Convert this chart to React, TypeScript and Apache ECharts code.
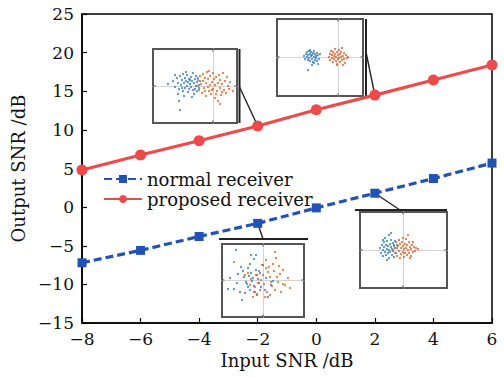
import React, { useEffect, useRef } from "react";
import * as echarts from "echarts";

const xValues = [-8, -6, -4, -2, 0, 2, 4, 6];
const normalReceiver = [-7.2, -5.6, -3.8, -2.1, -0.1, 1.8, 3.7, 5.7];
const proposedReceiver = [4.8, 6.75, 8.6, 10.5, 12.6, 14.5, 16.45, 18.4];
const xTicks = { min: -8, max: 6, interval: 2 };
const yTicks = { min: -15, max: 25, interval: 5 };
const legendNames = ["normal receiver", "proposed receiver"];

// constellation insets: offsets (px-like units) from each inset's crosshair
const insetABlue = [[-45,2],[-40,5],[-38,-1],[-36,8],[-35,3],[-34,-3],[-33,10],[-32,1],[-31,6],[-30,-5],[-30,12],[-29,3],[-28,-2],[-28,8],[-27,5],[-26,0],[-26,11],[-25,-6],[-25,4],[-24,7],[-24,-3],[-23,2],[-22,9],[-22,-1],[-21,5],[-20,-4],[-20,13],[-19,3],[-19,-8],[-18,7],[-17,0],[-17,10],[-16,-5],[-16,4],[-15,8],[-14,1],[-14,-2],[-13,5],[-35,-8],[-29,-10],[-21,-11],[-34,-15],[-33,-24],[-38,11],[-27,14],[-31,-2],[-23,6],[-18,-3]];
const insetAOrange = [[-16,0],[-15,6],[-14,-4],[-13,10],[-12,2],[-11,-7],[-10,5],[-10,12],[-9,-2],[-8,8],[-7,-10],[-7,3],[-6,14],[-5,-1],[-5,7],[-4,-5],[-3,10],[-3,1],[-2,-8],[-1,4],[0,-3],[0,13],[1,7],[2,-12],[2,1],[3,9],[4,-5],[5,3],[5,-15],[6,11],[7,-2],[7,6],[8,-9],[9,2],[10,13],[11,-4],[12,5],[13,-7],[14,9],[15,0],[16,-3],[17,4],[7,-18],[20,-5],[-4,15],[-1,-4],[3,-8],[9,-6],[-8,-5]];
const insetBBlue = [[-34,1],[-33,-2],[-32,3],[-31,0],[-31,5],[-30,-3],[-30,2],[-29,6],[-29,-1],[-28,3],[-28,-4],[-27,1],[-27,5],[-26,-2],[-26,2],[-25,4],[-25,-5],[-24,0],[-24,6],[-23,-3],[-23,3],[-22,1],[-22,-1],[-21,4],[-21,-4],[-20,2],[-19,-2],[-18,3],[-20,-7],[-30,-13],[-26,-8],[-28,7],[-24,-6]];
const insetBOrange = [[-9,0],[-8,3],[-8,-3],[-7,6],[-6,-1],[-6,2],[-5,-5],[-5,5],[-4,1],[-4,-2],[-3,8],[-3,3],[-2,-4],[-2,0],[-1,5],[-1,-7],[0,2],[0,-2],[1,7],[1,-1],[2,3],[2,-5],[3,0],[3,5],[4,-3],[4,9],[5,1],[6,-2],[6,4],[7,-6],[8,2],[9,-1],[10,0],[-1,-8],[5,-8]];
const insetCBlue = [[-27,30],[-33,2],[-35,-9],[-29,-9],[-21,-20],[-13,16],[-9,21],[-7,25],[-12,25],[-22,13],[-25,6],[-19,3],[-17,-2],[-15,-7],[-10,2],[-8,-12],[-6,-15],[-3,7],[2,-10],[5,-17],[8,-5],[0,15],[-18,-13],[-23,-12],[-4,-3],[-12,7],[-14,4],[-7,10],[-20,9],[-16,-4],[-11,-1],[-5,1],[-9,-6],[-2,-7],[3,2],[-26,-3],[-13,-10],[-6,5],[10,-1],[-15,12]];
const insetCOrange = [[12,28],[13,22],[20,10],[25,2],[22,-5],[10,16],[3,12],[7,3],[-2,0],[-7,5],[-15,7],[-18,5],[-29,18],[3,20],[-3,-10],[2,-17],[12,-10],[15,-2],[8,-2],[-8,-7],[-10,-17],[0,5],[5,8],[-5,-3],[17,6],[9,-6],[-12,1],[18,-12],[1,-4],[6,13],[-4,9],[14,3],[-9,-12],[4,-12],[27,-8],[11,9],[-1,15],[20,-4],[-6,-14],[7,-15],[16,14],[-13,-5]];
const insetDBlue = [[-23,2],[-22,-3],[-21,5],[-20,0],[-20,-6],[-19,8],[-19,3],[-18,-2],[-18,12],[-17,5],[-17,-5],[-16,1],[-16,9],[-15,-3],[-15,4],[-14,15],[-14,-8],[-14,0],[-13,6],[-13,-2],[-12,10],[-12,3],[-11,-5],[-11,1],[-10,7],[-10,-1],[-9,4],[-9,-7],[-8,2],[-7,-3],[-6,5],[-12,17],[-16,-10],[-8,9],[-20,10]];
const insetDOrange = [[-10,0],[-9,5],[-8,-3],[-7,8],[-6,2],[-6,-6],[-5,4],[-4,-1],[-4,10],[-3,6],[-2,-4],[-2,2],[-1,8],[0,-2],[0,4],[1,-7],[1,1],[2,6],[2,-3],[3,11],[3,2],[4,-5],[4,5],[5,0],[6,8],[6,-3],[7,3],[8,-6],[8,1],[9,5],[10,-2],[11,3],[12,-1],[13,2],[15,1],[5,15],[-3,-8],[10,8],[0,12],[7,-8]];

const BLUE = "#2152b5";
const RED = "#ee4a4a";
const DOT_BLUE = "#2b78c4";
const DOT_ORANGE = "#dd5f22";
const FONT = "DejaVu Serif";

// inset layout: box and axis ranges (crosshair at 0,0)
const insets = [
  { left: 153, top: 49, width: 84, height: 74, x: [-60, 24], y: [-37, 37], blue: insetABlue, orange: insetAOrange },
  { left: 277, top: 19, width: 86, height: 77, x: [-61, 25], y: [-39, 38], blue: insetBBlue, orange: insetBOrange },
  { left: 222, top: 244, width: 82, height: 73, x: [-41, 41], y: [-37, 36], blue: insetCBlue, orange: insetCOrange },
  { left: 360, top: 212, width: 87, height: 76, x: [-43, 44], y: [-38, 38], blue: insetDBlue, orange: insetDOrange },
];

const minus = (v: number) => String(v).replace("-", "\u2212");

export default function App() {
  const ref = useRef<HTMLDivElement>(null);
  useEffect(() => {
    if (!ref.current) return;
    const chart = echarts.init(ref.current, undefined, { renderer: "svg" });

    const grids: any[] = [
      { left: 82, top: 14, width: 410, height: 309, show: true, borderColor: "#000", borderWidth: 1.5, backgroundColor: "transparent" },
    ];
    const xAxes: any[] = [
      {
        type: "value", gridIndex: 0, ...xTicks,
        name: "Input SNR /dB", nameLocation: "middle", nameGap: 27,
        nameTextStyle: { fontFamily: FONT, fontSize: 18, color: "#111" },
        axisLine: { show: true, onZero: false, lineStyle: { color: "#000", width: 1.5 } },
        axisTick: { inside: true, length: 5, lineStyle: { color: "#000", width: 1.2 } },
        axisLabel: { fontFamily: FONT, fontSize: 17, color: "#111", margin: 7, formatter: minus },
        splitLine: { show: false },
      },
    ];
    const yAxes: any[] = [
      {
        type: "value", gridIndex: 0, ...yTicks,
        name: "Output SNR /dB", nameLocation: "middle", nameGap: 50, nameRotate: 90,
        nameTextStyle: { fontFamily: FONT, fontSize: 18, color: "#111" },
        axisLine: { show: true, onZero: false, lineStyle: { color: "#000", width: 1.5 } },
        axisTick: { inside: true, length: 5, lineStyle: { color: "#000", width: 1.2 } },
        axisLabel: { fontFamily: FONT, fontSize: 17, color: "#111", margin: 8, formatter: minus },
        splitLine: { show: false },
      },
    ];
    const series: any[] = [
      {
        name: legendNames[0], type: "line", xAxisIndex: 0, yAxisIndex: 0,
        data: xValues.map((x, i) => [x, normalReceiver[i]]),
        symbol: "rect", symbolSize: 9, z: 5,
        lineStyle: { color: BLUE, width: 3.2, type: [8, 4] },
        itemStyle: { color: BLUE },
      },
      {
        name: legendNames[1], type: "line", xAxisIndex: 0, yAxisIndex: 0,
        data: xValues.map((x, i) => [x, proposedReceiver[i]]),
        symbol: "circle", symbolSize: 11, z: 5,
        lineStyle: { color: RED, width: 3.2 },
        itemStyle: { color: RED },
      },
    ];

    insets.forEach((ins, k) => {
      const gi = k + 1;
      grids.push({ left: ins.left, top: ins.top, width: ins.width, height: ins.height, show: true, borderColor: "#555", borderWidth: 2, backgroundColor: "#fff", z: 3 });
      xAxes.push({
        type: "value", gridIndex: gi, min: ins.x[0], max: ins.x[1],
        axisLine: { show: true, onZero: true, lineStyle: { color: "#d4d4d4", width: 1 } },
        axisTick: { show: false }, axisLabel: { show: false }, splitLine: { show: false }, z: 3,
      });
      yAxes.push({
        type: "value", gridIndex: gi, min: ins.y[0], max: ins.y[1],
        axisLine: { show: true, onZero: true, lineStyle: { color: "#d4d4d4", width: 1 } },
        axisTick: { show: false }, axisLabel: { show: false }, splitLine: { show: false }, z: 3,
      });
      series.push({
        type: "scatter", xAxisIndex: gi, yAxisIndex: gi, data: ins.blue,
        symbolSize: 2.3, itemStyle: { color: DOT_BLUE }, z: 6, silent: true,
      });
      series.push({
        type: "scatter", xAxisIndex: gi, yAxisIndex: gi, data: ins.orange,
        symbolSize: 2.3, itemStyle: { color: DOT_ORANGE }, z: 6, silent: true,
      });
    });

    chart.setOption({
      animation: false,
      backgroundColor: "#fff",
      textStyle: { fontFamily: FONT },
      grid: grids,
      xAxis: xAxes,
      yAxis: yAxes,
      legend: {
        data: legendNames, orient: "vertical", left: 103, top: 170, padding: 0,
        itemWidth: 38, itemHeight: 10, itemGap: 2,
        lineStyle: { width: 2 },
        textStyle: { fontFamily: FONT, fontSize: 18, color: "#111", lineHeight: 18 },
      },
      series,
    });

    const P = (x: number, y: number) => chart.convertToPixel({ gridIndex: 0 }, [x, y]) as number[];
    const redM2 = P(xValues[3], proposedReceiver[3]);
    const red2 = P(xValues[5], proposedReceiver[5]);
    const blueM2 = P(xValues[3], normalReceiver[3]);
    const blue2 = P(xValues[5], normalReceiver[5]);
    const dark = { stroke: "#222", lineWidth: 2 };
    const thin = { stroke: "#222", lineWidth: 1.4 };
    const ln = (x1: number, y1: number, x2: number, y2: number, style: any) => ({
      type: "line", shape: { x1, y1, x2, y2 }, style, z: 4, silent: true,
    });
    const ticks: any[] = [];
    insets.forEach((ins) => {
      const cx = ins.left + (-ins.x[0] / (ins.x[1] - ins.x[0])) * ins.width;
      const cy = ins.top + (ins.y[1] / (ins.y[1] - ins.y[0])) * ins.height;
      const s = { stroke: "#444", lineWidth: 1 };
      ticks.push(ln(cx, ins.top, cx, ins.top + 2.5, s));
      ticks.push(ln(cx, ins.top + ins.height - 2.5, cx, ins.top + ins.height, s));
      ticks.push(ln(ins.left, cy, ins.left + 2.5, cy, s));
      ticks.push(ln(ins.left + ins.width - 2.5, cy, ins.left + ins.width, cy, s));
    });
    chart.setOption({
      graphic: [
        ln(239.5, 49, 239.5, 123, dark),
        ln(239.5, 87, redM2[0], redM2[1], thin),
        ln(366, 19, 366, 96, dark),
        ln(366, 52, red2[0], red2[1], thin),
        ln(219, 239, 308, 239, dark),
        ln(263, 239, blueM2[0], blueM2[1], thin),
        ln(355, 210, 447, 210, dark),
        ln(400, 210, blue2[0], blue2[1], thin),
        ...ticks,
      ],
    });

    return () => chart.dispose();
  }, []);
  return <div ref={ref} style={{ width: 504, height: 377, position: "absolute", left: 0, top: 0 }} />;
}
